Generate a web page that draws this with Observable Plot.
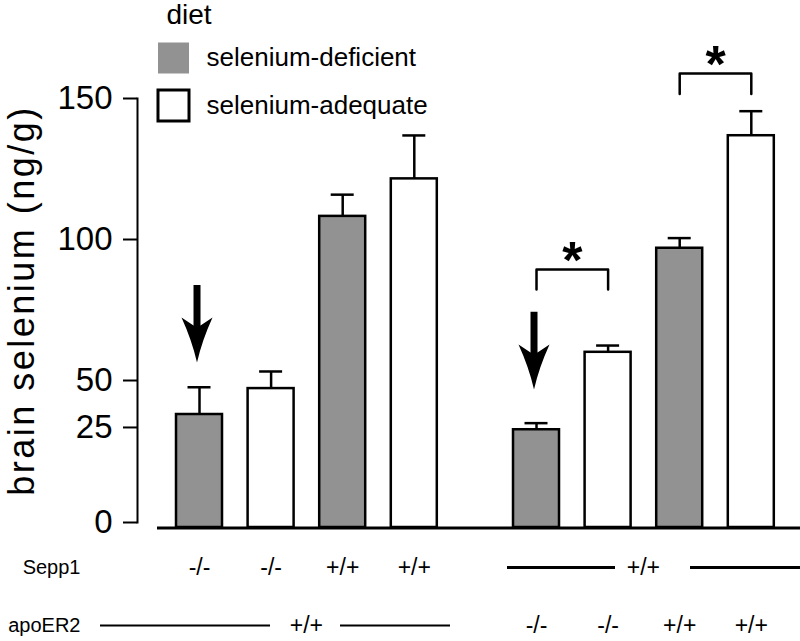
<!DOCTYPE html>
<html><head><meta charset="utf-8">
<script src="https://cdn.jsdelivr.net/npm/d3@7"></script>
<script src="https://cdn.jsdelivr.net/npm/@observablehq/plot@0.6"></script>
<style>
body{margin:0;background:#fff;}
#chart svg{display:block;overflow:visible}
</style></head><body><div id="chart"></div>
<script>
// ---- data ----
const diets = ["selenium-deficient", "selenium-adequate"];
const dietFill = ["#929292", "#ffffff"];
const groups = ["Sepp1", "apoER2"];               // gene that varies within each group
const barGroup = ["Sepp1","Sepp1","Sepp1","Sepp1","apoER2","apoER2","apoER2","apoER2"];
const barDiet = [diets[0], diets[1], diets[0], diets[1], diets[0], diets[1], diets[0], diets[1]];
const sepp1  = ["-/-","-/-","+/+","+/+","+/+","+/+","+/+","+/+"];
const apoER2 = ["+/+","+/+","+/+","+/+","-/-","-/-","+/+","+/+"];
const selenium = [31.9, 45.7, 108.2, 121.5, 24.4, 60.0, 96.9, 136.8];
const sem      = [14.5, 7.5, 7.7, 15.4, 2.9, 2.4, 3.6, 8.7];
const yTicks = [0, 25, 50, 100, 150];
// the printed axis is not uniform below 50: where each break value sits, in "50–150 units"
const yBreaks   = [0, 25, 50, 150];
const yBreakPos = [0, 33.7, 50.35, 150.35];
const yLabel = "brain selenium (ng/g)";
const legendTitle = "diet";
// arrows pointing at bars
const arrowBar = [0, 4];
const arrowTip = [56.4, 45.2];
const arrowTop = [83.7, 74.2];
// significance brackets
const sigFrom = [4, 6];
const sigTo   = [5, 7];
const sigTop  = [89.4, 158.9];
const sigLeg  = [82.3, 151.6];
const sigMark = "*";

// ---- derived tables ----
const bars = selenium.map((value, i) => ({
  group: barGroup[i], diet: barDiet[i], Sepp1: sepp1[i], apoER2: apoER2[i], value, sem: sem[i],
  key: barDiet[i] + " " + (barGroup[i] === "Sepp1" ? sepp1[i] : apoER2[i])
}));
const xDomain = bars.filter(d => d.group === groups[0]).map(d => d.key);
const arrows = arrowBar.map((b, i) => ({group: bars[b].group, key: bars[b].key, tip: arrowTip[i], top: arrowTop[i]}));
const sigs = sigFrom.map((f, i) => ({id: i, group: bars[f].group, from: bars[f].key, to: bars[sigTo[i]].key, top: sigTop[i], leg: sigLeg[i]}));
const bracketPts = sigs.flatMap(s => [
  {id: s.id, group: s.group, bar: s.from, y: s.leg},
  {id: s.id, group: s.group, bar: s.from, y: s.top},
  {id: s.id, group: s.group, bar: s.to, y: s.top},
  {id: s.id, group: s.group, bar: s.to, y: s.leg}
]);
const other = {Sepp1: "apoER2", apoER2: "Sepp1"};
const shared = groups.map(g => ({group: g, gene: other[g], text: bars.find(d => d.group === g)[other[g]]}));
const rowDy = {Sepp1: 45, apoER2: 103};
const axisWarp = d3.scaleLinear().domain(yBreaks).range(yBreakPos);

const arrowHead = {
  draw(ctx) {
    ctx.moveTo(0, 0);
    ctx.quadraticCurveTo(5, -22, 15.5, -45);
    ctx.lineTo(3.5, -37);
    ctx.lineTo(-3.5, -37);
    ctx.lineTo(-15.5, -45);
    ctx.quadraticCurveTo(-5, -22, 0, 0);
    ctx.closePath();
  }
};

const F = "'Liberation Sans', Arial, Helvetica, sans-serif";
const L = {facetAnchor: "left"};
const sharedOf = gene => shared.filter(d => d.gene === gene);

const marks = [
  // axis (tick values go through the scale's transform like the data)
  Plot.frame({anchor: "left", strokeWidth: 2, facetAnchor: "left"}),
  Plot.axisY(yTicks, {tickSize: 14, tickPadding: 11, fontSize: 33, strokeWidth: 2, label: null, tickFormat: d => String(d)}),
  Plot.text([yLabel], {frameAnchor: "left", textAnchor: "middle", rotate: -90, dx: -115, dy: -10, fontSize: 36, ...L}),
  // baseline
  Plot.ruleY([0], {strokeWidth: 3, dy: 5.5, insetLeft: 20, insetRight: -363.2, ...L}),
  // bars
  Plot.barY(bars, {fx: "group", x: "key", y: "value", fill: "diet", stroke: "black", strokeWidth: 2.5, insetBottom: -5}),
  Plot.ruleX(bars, {fx: "group", x: "key", y1: "value", y2: d => d.value + d.sem, strokeWidth: 2.5}),
  Plot.tickY(bars, {fx: "group", x: "key", y: d => d.value + d.sem, strokeWidth: 2.5, insetLeft: 11.5, insetRight: 11.5}),
  // arrows
  Plot.ruleX(arrows, {fx: "group", x: "key", y1: "top", y2: "tip", strokeWidth: 7, insetBottom: 30, dx: -2.5}),
  Plot.dot(arrows, {fx: "group", x: "key", y: "tip", symbol: arrowHead, fill: "black", stroke: "none", dx: -2.5}),
  // significance
  Plot.line(bracketPts, {fx: "group", x: "bar", y: "y", z: "id", strokeWidth: 2.5, curve: "linear"}),
  Plot.text(sigs, {fx: "group", x: "from", y: "top", text: () => sigMark, fontSize: 52, fontWeight: "bold", lineAnchor: "middle", dx: 35.8, dy: -8}),
  // genotype rows
  ...groups.map(g => Plot.text([g], {frameAnchor: "bottom-left", textAnchor: "end", lineAnchor: "middle", dx: -57, dy: rowDy[g], fontSize: 20, ...L})),
  ...groups.map(g => Plot.text(bars.filter(d => d.group === g), {fx: "group", x: "key", text: g, frameAnchor: "bottom", lineAnchor: "middle", dy: rowDy[g], fontSize: 23})),
  ...groups.map(g => Plot.text(sharedOf(g), {fx: "group", text: "text", frameAnchor: "bottom", lineAnchor: "middle", dx: 19, dy: rowDy[g], fontSize: 23})),
  Plot.ruleY(sharedOf("apoER2"), {fx: "group", y: 0, dy: rowDy.apoER2, strokeWidth: 2, insetLeft: -37, insetRight: 166.8}),
  Plot.ruleY(sharedOf("apoER2"), {fx: "group", y: 0, dy: rowDy.apoER2, strokeWidth: 2, insetLeft: 203, insetRight: -13.2}),
  Plot.ruleY(sharedOf("Sepp1"), {fx: "group", y: 0, dy: rowDy.Sepp1, strokeWidth: 3, insetLeft: 33, insetRight: 158.8}),
  Plot.ruleY(sharedOf("Sepp1"), {fx: "group", y: 0, dy: rowDy.Sepp1, strokeWidth: 3, insetLeft: 216, insetRight: -26.2}),
  // legend
  Plot.text([legendTitle], {frameAnchor: "top-left", textAnchor: "start", lineAnchor: "middle", dx: 29, dy: -83, fontSize: 28, ...L}),
  ...diets.map((d, i) => Plot.dot([d], {frameAnchor: "top-left", symbol: "square", r: 17.5, fill: x => x,
      stroke: i === 0 ? "none" : "black", strokeWidth: 3, dx: 36, dy: -40.5 + i * 47.5, ...L})),
  ...diets.map((d, i) => Plot.text([d], {frameAnchor: "top-left", textAnchor: "start", lineAnchor: "middle", dx: 69, dy: -40.5 + i * 47.5, fontSize: 26, ...L}))
];

const fig = Plot.plot({
  width: 800, height: 641,
  marginTop: 98, marginBottom: 119, marginLeft: 137, marginRight: 26.2,
  style: {fontFamily: F, background: "white", color: "black", overflow: "visible"},
  facet: {margin: 0},
  fx: {domain: groups, paddingInner: 0.1104, paddingOuter: 0, round: false, axis: null, label: null},
  x: {domain: xDomain, paddingInner: 0.3575, paddingOuter: 0.2724, align: 1, round: false, axis: null, label: null},
  y: {type: "linear", transform: axisWarp, domain: [0, yBreakPos[yBreakPos.length - 1]], axis: null},
  color: {domain: diets, range: dietFill},
  marks
});
fig.querySelectorAll("text").forEach(t => { if (t.textContent === yLabel) t.style.letterSpacing = "2.5px"; });
document.getElementById("chart").append(fig);
</script></body></html>
